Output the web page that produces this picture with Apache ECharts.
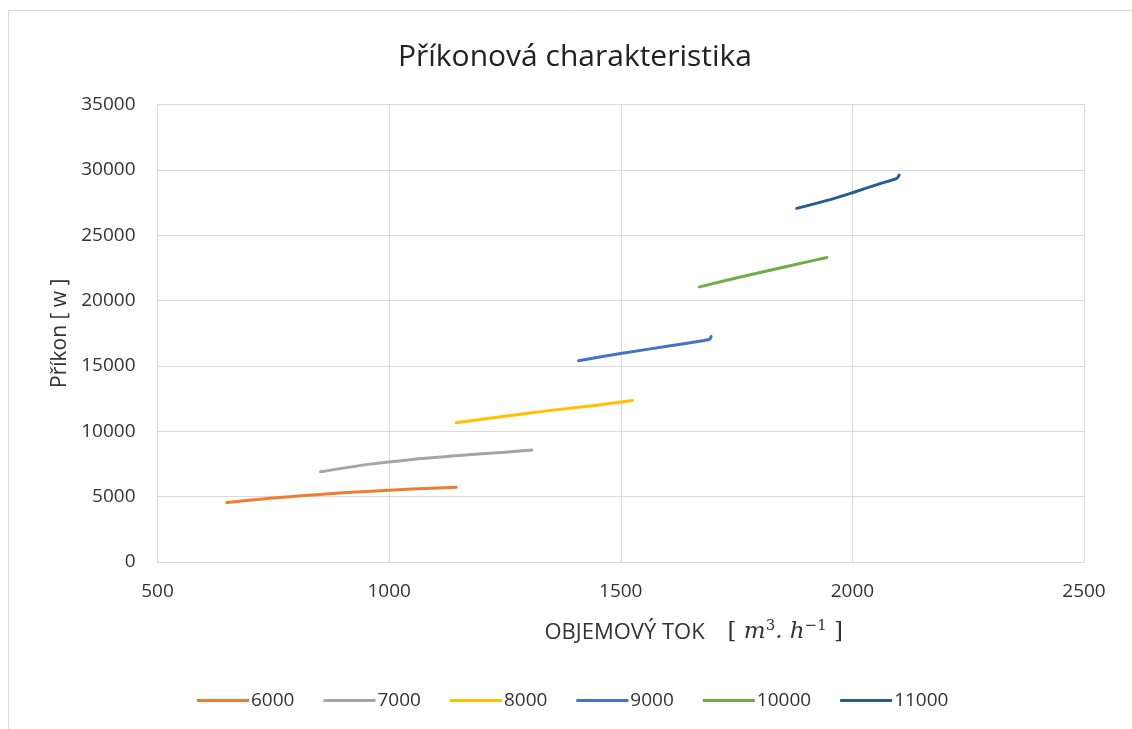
<!DOCTYPE html>
<html>
<head>
<meta charset="utf-8">
<script src="https://cdn.jsdelivr.net/npm/echarts@6/dist/echarts.min.js"></script>
<style>
  html, body { margin: 0; padding: 0; background: #fff; }
  #chart1 { width: 1132px; height: 729px; }
</style>
</head>
<body>
<div id="chart1"></div>
<script>
var seriesNames = ['6000', '7000', '8000', '9000', '10000', '11000'];
var colors = ['#ED7D31', '#A5A5A5', '#FFC000', '#4472C4', '#70AD47', '#255E91'];

// objemový tok [m3/h]
var flow6000 = [650, 750, 850, 950, 1050, 1145];
var flow7000 = [852, 950, 1050, 1150, 1250, 1308];
var flow8000 = [1145, 1250, 1350, 1450, 1525];
var flow9000 = [1409, 1500, 1600, 1680, 1692, 1695];
var flow10000 = [1670, 1770, 1870, 1945];
var flow11000 = [1880, 1950, 2000, 2060, 2096, 2101];

// příkon [W]
var power6000 = [4550, 4900, 5170, 5400, 5580, 5720];
var power7000 = [6900, 7450, 7850, 8150, 8400, 8560];
var power8000 = [10650, 11150, 11600, 12000, 12350];
var power9000 = [15400, 15950, 16500, 16950, 17050, 17250];
var power10000 = [21050, 21900, 22700, 23300];
var power11000 = [27050, 27700, 28250, 28950, 29350, 29600];

var flows = [flow6000, flow7000, flow8000, flow9000, flow10000, flow11000];
var powers = [power6000, power7000, power8000, power9000, power10000, power11000];

var xTicks = [500, 1000, 1500, 2000, 2500];
var yTicks = [0, 5000, 10000, 15000, 20000, 25000, 30000, 35000];

var font = '"Open Sans", "Liberation Sans", sans-serif';
var textColor = '#333';

var series = seriesNames.map(function (name, i) {
    return {
        name: name,
        type: 'line',
        symbol: 'none',
        smooth: 0.3,
        data: flows[i].map(function (x, j) { return [x, powers[i][j]]; }),
        lineStyle: { width: 3, color: colors[i], cap: 'round' },
        itemStyle: { color: colors[i] }
    };
});

var myChart = echarts.init(document.getElementById('chart1'));
var option = {
    backgroundColor: '#fff',
    animation: false,
    title: {
        text: 'Příkonová charakteristika',
        left: 570,
        textAlign: 'center',
        top: 37,
        textStyle: { fontFamily: font, fontSize: 30, fontWeight: 'normal', color: '#222' }
    },
    graphic: [{
        type: 'rect',
        shape: { x: 8.5, y: 10.5, width: 1140, height: 740 },
        style: { fill: 'none', stroke: '#d9d9d9', lineWidth: 1 }
    }],
    legend: {
        data: seriesNames,
        icon: 'rect',
        left: 192,
        top: 686,
        itemWidth: 52,
        itemHeight: 3,
        itemGap: 29,
        textStyle: { fontFamily: font, fontSize: 19, color: textColor, padding: [0, 0, 0, -3] }
    },
    grid: { left: 157.5, right: 48, top: 104.5, bottom: 167 },
    xAxis: {
        type: 'value',
        min: 500,
        max: 2500,
        interval: 500,
        name: 'OBJEMOVÝ TOK    {br|[ }{m|m}{s|3}{m|. h}{s|−1}{br| ]}',
        nameLocation: 'middle',
        nameGap: 57,
        nameTextStyle: {
            fontFamily: font, fontSize: 22, color: textColor,
            padding: [0, 0, 0, 146],
            rich: {
                br: { fontFamily: 'DejaVu Serif', fontSize: 23, color: textColor },
                m: { fontFamily: 'DejaVu Serif', fontStyle: 'italic', fontSize: 23, color: textColor },
                s: { fontFamily: 'DejaVu Serif', fontSize: 15, color: textColor, verticalAlign: 'top', padding: [0, 0, 12, 0] }
            }
        },
        axisLine: { show: true, lineStyle: { color: '#d9d9d9' } },
        axisTick: { show: false },
        axisLabel: { margin: 20, fontFamily: font, fontSize: 19, color: textColor,
            formatter: function (v) { return xTicks.indexOf(v) >= 0 ? String(v) : ''; } },
        splitLine: { show: true, lineStyle: { color: '#d9d9d9', width: 1 } }
    },
    yAxis: {
        type: 'value',
        min: 0,
        max: 35000,
        interval: 5000,
        name: 'Příkon [ w ]',
        nameLocation: 'middle',
        nameGap: 84,
        nameTextStyle: { fontFamily: font, fontSize: 21, color: textColor },
        axisLine: { show: false },
        axisTick: { show: false },
        axisLabel: { margin: 22, fontFamily: font, fontSize: 19, color: textColor,
            formatter: function (v) { return yTicks.indexOf(v) >= 0 ? String(v) : ''; } },
        splitLine: { show: true, lineStyle: { color: '#d9d9d9', width: 1 } }
    },
    series: series
};
myChart.setOption(option);
</script>
</body>
</html>
